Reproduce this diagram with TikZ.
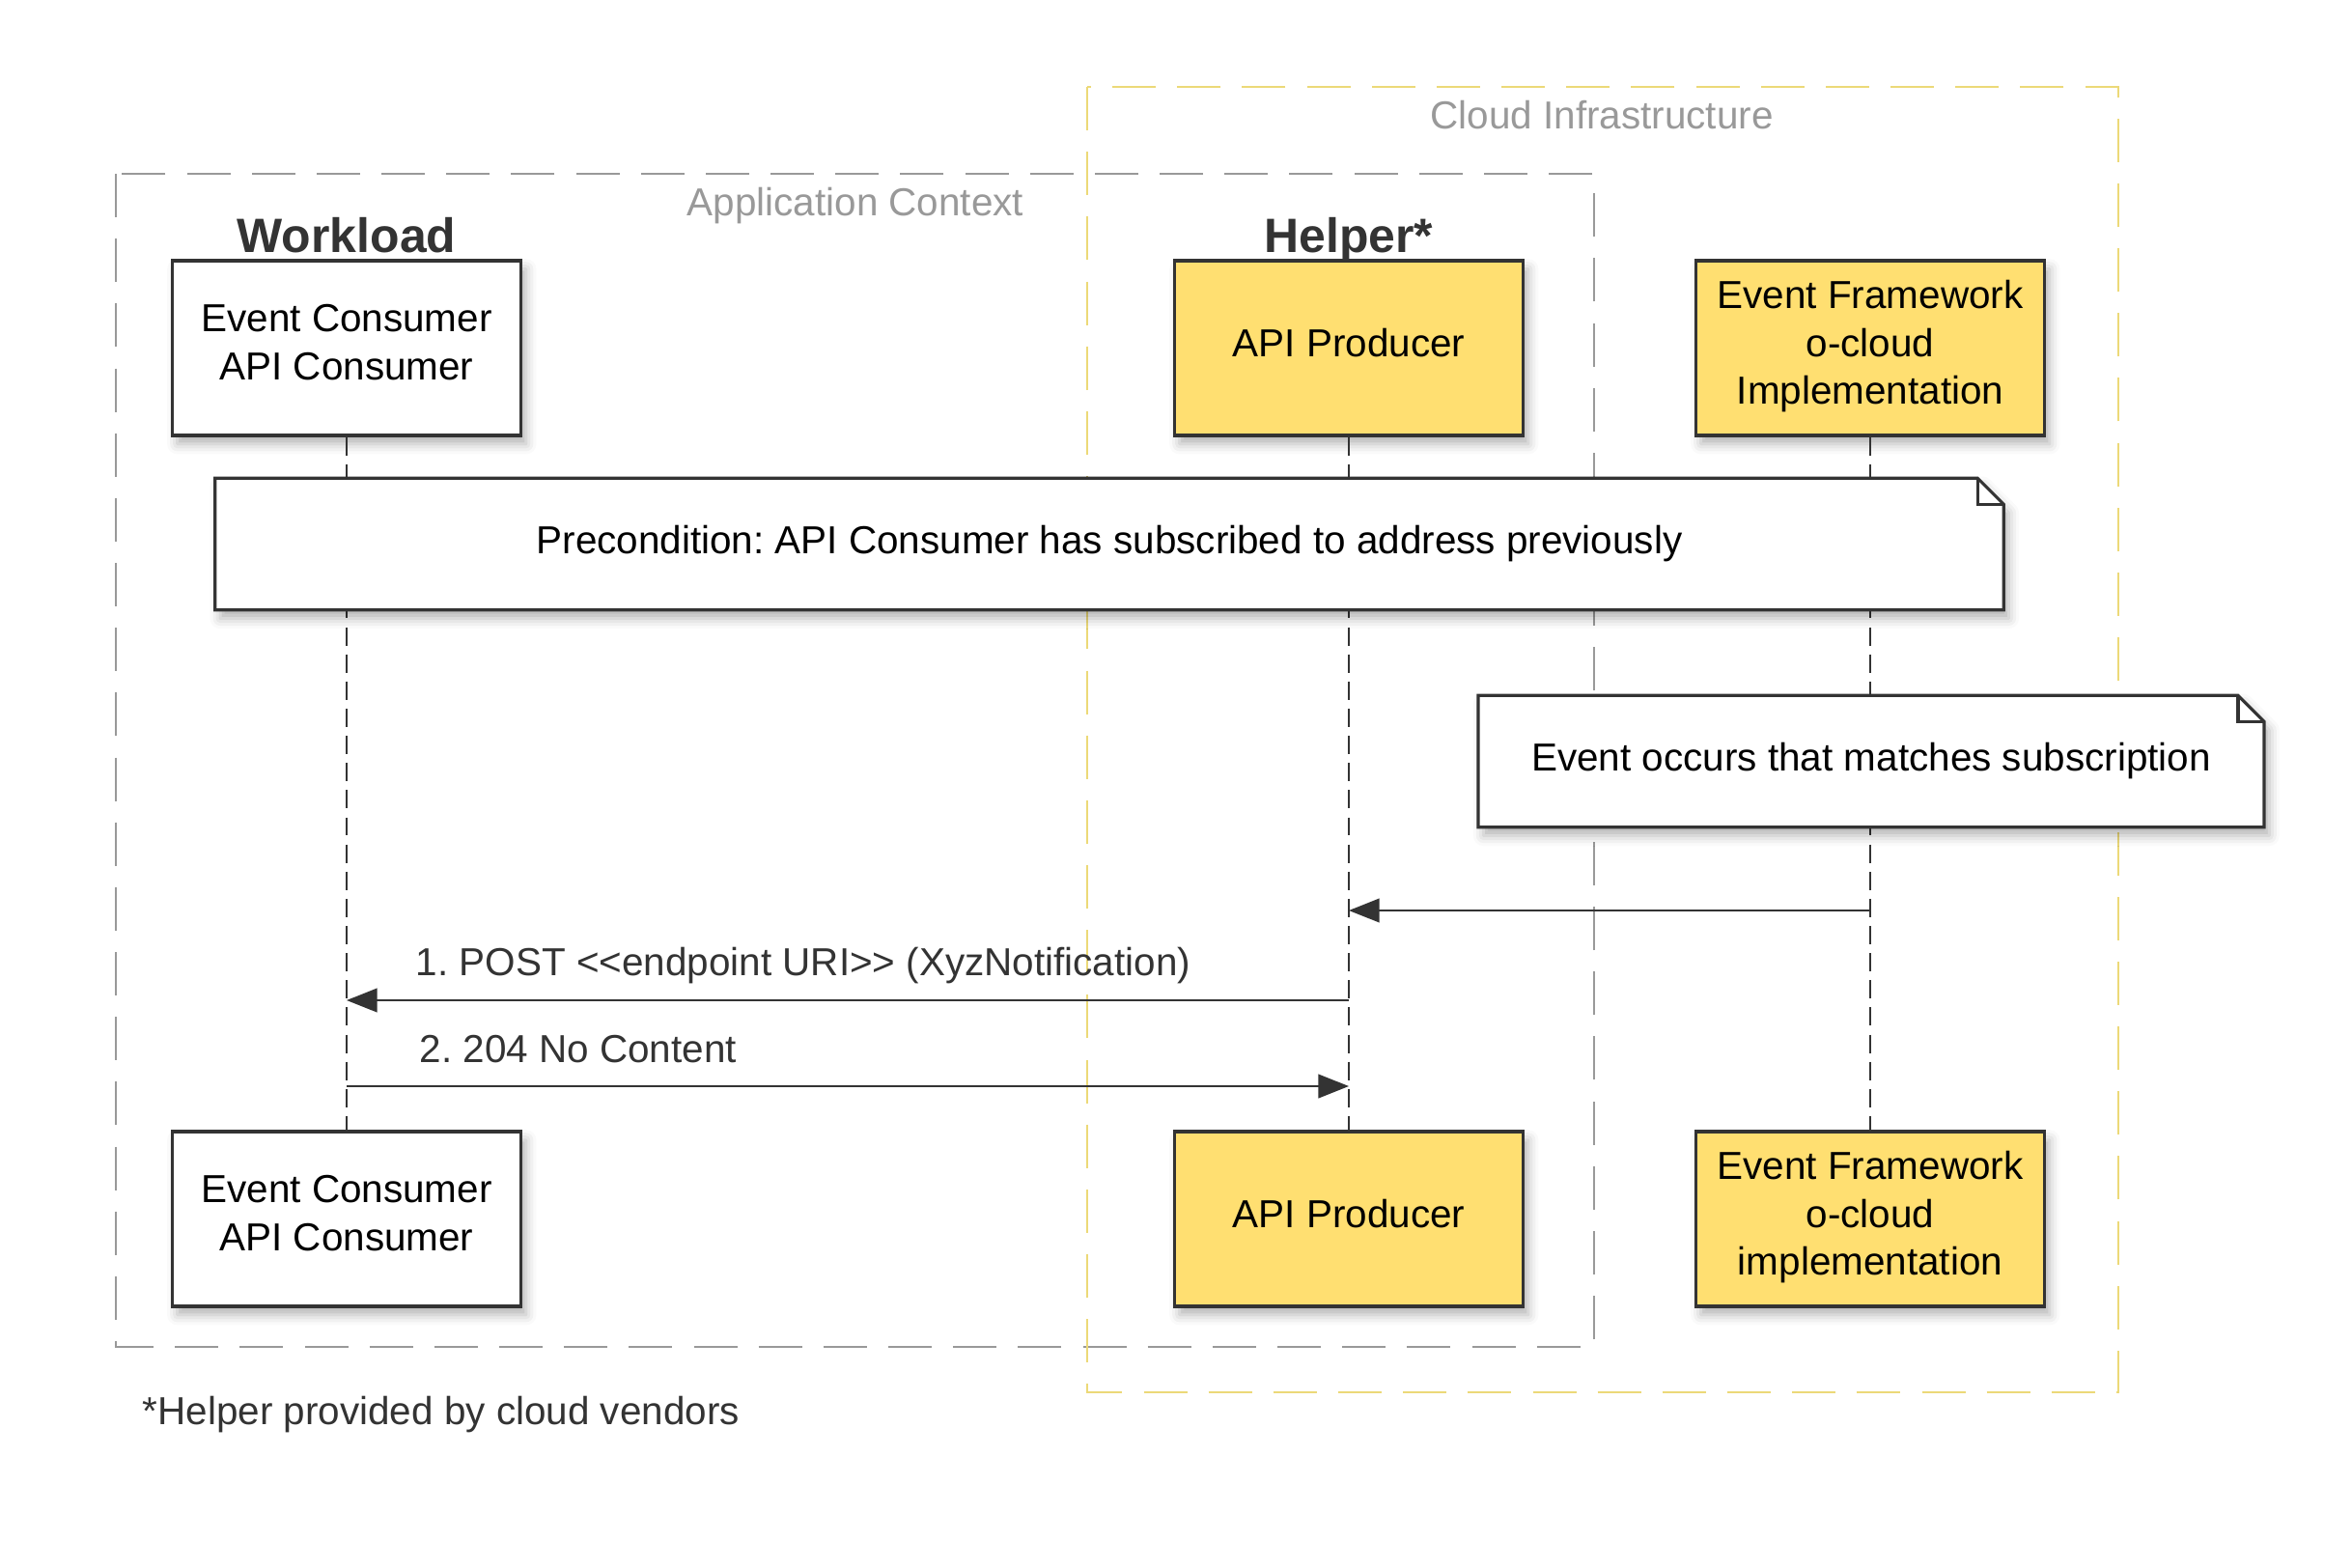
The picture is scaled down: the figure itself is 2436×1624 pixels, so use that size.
\documentclass[tikz,border=0pt]{standalone}
\usepackage{fontspec}
\setmainfont{Liberation Sans}
\usetikzlibrary{arrows.meta,shadows.blur,calc}
\definecolor{lcYellow}{RGB}{255,223,113}
\definecolor{lcInk}{RGB}{51,51,51}
\definecolor{lcFrame}{RGB}{153,153,153}
\definecolor{lcCloud}{RGB}{236,217,120}
\frenchspacing

\begin{document}
\begin{tikzpicture}[x=0.01cm, y=-0.01cm,
    every node/.style={font=\fontsize{11.5}{14}\selectfont},
    softshadow/.style={blur shadow={shadow xshift=1.5pt, shadow yshift=-2.5pt, shadow blur radius=3pt, shadow opacity=30}},
    actorbox/.style={draw=lcInk, line width=0.9pt, minimum width=3.61cm, minimum height=1.81cm, align=center, inner sep=0pt, text depth=3.5pt, softshadow},
    plainbox/.style={actorbox, fill=white},
    yelbox/.style={actorbox, fill=lcYellow},
    header/.style={font=\fontsize{14.2}{17}\selectfont\bfseries, text=lcInk, anchor=base, inner sep=0pt},
    frametitle/.style={text=lcFrame, anchor=base, inner sep=0pt},
    appframe/.style={draw=lcFrame, line width=0.7pt, dash pattern=on 12.8pt off 6.3pt},
    cloudframe/.style={draw=lcCloud, line width=0.7pt, dash pattern=on 12.8pt off 6.3pt},
    lifeline/.style={draw=lcInk, line width=0.6pt, dash pattern=on 5.4pt off 2.6pt},
    noteshape/.style={minimum height=1.35cm, inner sep=0pt},
    notebody/.style={draw=lcInk, fill=white, line width=0.9pt, softshadow},
    msg/.style={draw=lcInk, line width=0.6pt, -{Triangle[length=9pt,width=7pt]}},
    msglabel/.style={text=lcInk, anchor=base west, inner sep=0pt}]
    \useasboundingbox (0,0) rectangle (2436,1624);

    % frames and their titles
    \draw[appframe] (120,180) rectangle (1651,1395);
    \draw[cloudframe] (1126,90) rectangle (2194,1442);
    \node[frametitle] (appTitle) at (886,223) {Application Context};
    \node[frametitle] (cloudTitle) at (1659,133) {Cloud Infrastructure};

    \node[header] (wlHead) at (359,261) {Workload};
    \node[header] (hpHead) at (1397,261) {Helper*};

    % participants, top and bottom
    \foreach \y/\tag/\impl in {360.5/top/Implementation, 1262.5/bot/implementation} {
        \node[plainbox] (\tag-wl) at (359,\y) {Event Consumer\\API Consumer};
        \node[yelbox] (\tag-hp) at (1397,\y) {API Producer};
        \node[yelbox] (\tag-ef) at (1937,\y) {Event Framework\\o-cloud\\\impl};
    }
    \foreach \n in {wl,hp,ef}
        \draw[lifeline] (top-\n.south) -- (bot-\n.north);

    % notes
    \node[noteshape, minimum width=18.5cm] (pre) at (1149,563.5) {};
    \node[noteshape, minimum width=8.12cm] (evt) at (1938,788.5) {};
    \foreach \n in {pre,evt} {
        \filldraw[notebody] (\n.north west) -- ($(\n.north east)+(-27,0)$) -- ($(\n.north east)+(0,27)$)
            -- (\n.south east) -- (\n.south west) -- cycle;
        \draw[draw=lcInk, line width=0.9pt] ($(\n.north east)+(-27,0)$) |- ($(\n.north east)+(0,27)$);
    }
    \node (preText) at (pre) {Precondition: API Consumer has subscribed to address previously};
    \node (evtText) at (evt) {Event occurs that matches subscription};

    % messages
    \coordinate (m0) at (0,943);
    \coordinate (m1) at (0,1036);
    \coordinate (m2) at (0,1125);
    \draw[msg] (top-ef.south |- m0) -- (top-hp.south |- m0);
    \draw[msg] (top-hp.south |- m1) -- (top-wl.south |- m1);
    \node[msglabel] (lbl1) at (430,1010) {1. POST <{}<endpoint URI>{}> (XyzNotification)};
    \draw[msg] (top-wl.south |- m2) -- (top-hp.south |- m2);
    \node[msglabel] (lbl2) at (434,1100) {2. 204 No Content};

    \node[msglabel] (foot) at (147,1475) {*Helper provided by cloud vendors};
\end{tikzpicture}
\end{document}
